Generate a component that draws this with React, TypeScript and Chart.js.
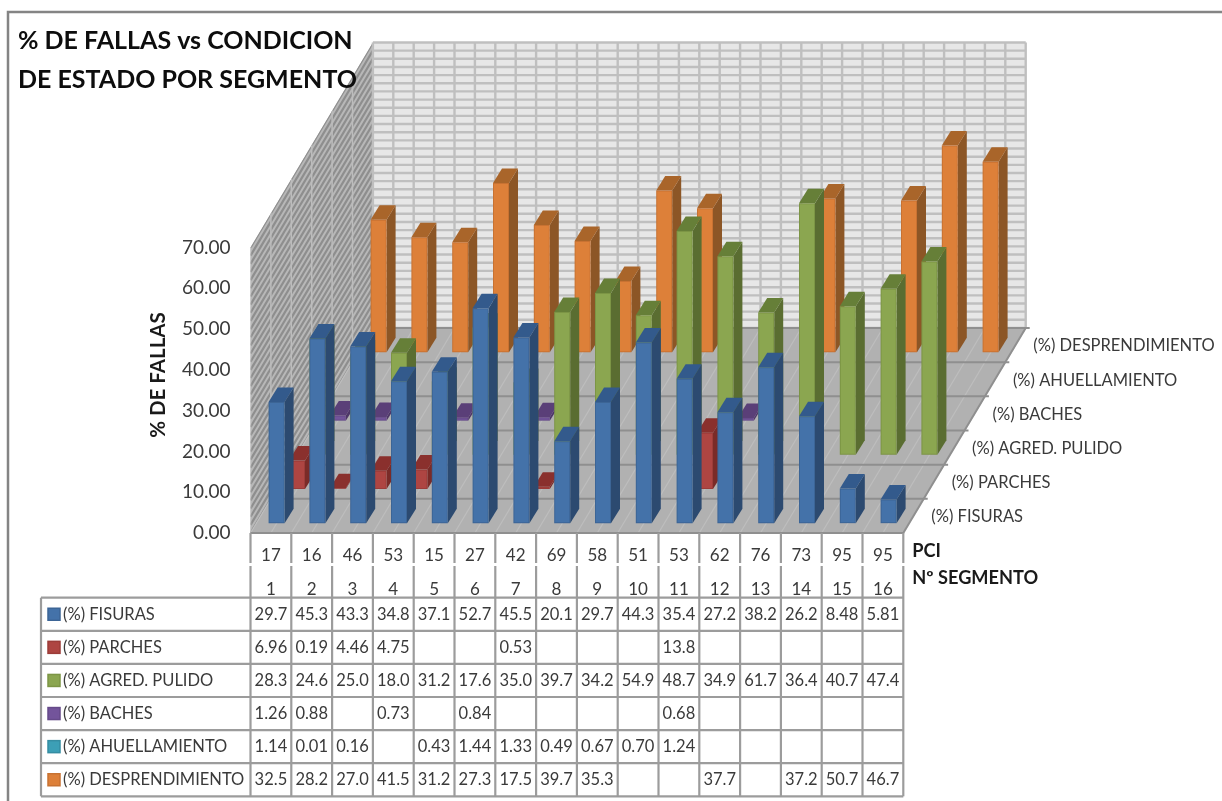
import React, { useEffect, useRef } from "react";
import { Chart, registerables } from "chart.js";

Chart.register(...registerables);

const FONT = "Lato";
const TEXT = "#3a3a3a";

const segments = ["1","2","3","4","5","6","7","8","9","10","11","12","13","14","15","16"];
const pci = ["17","16","46","53","15","27","42","69","58","51","53","62","76","73","95","95"];

const fisuras = [29.7,45.3,43.3,34.8,37.1,52.7,45.5,20.1,29.7,44.3,35.4,27.2,38.2,26.2,8.48,5.81];
const parches = [6.96,0.19,4.46,4.75,null,null,0.53,null,null,null,13.8,null,null,null,null,null];
const agredPulido = [28.3,24.6,25.0,18.0,31.2,17.6,35.0,39.7,34.2,54.9,48.7,34.9,61.7,36.4,40.7,47.4];
const baches = [1.26,0.88,null,0.73,null,0.84,null,null,null,null,0.68,null,null,null,null,null];
const ahuellamiento = [1.14,0.01,0.16,null,0.43,1.44,1.33,0.49,0.67,0.70,1.24,null,null,null,null,null];
const desprendimiento = [32.5,28.2,27.0,41.5,31.2,27.3,17.5,39.7,35.3,null,null,37.7,null,37.2,50.7,46.7];

const seriesNames = ["(%) FISURAS","(%) PARCHES","(%) AGRED. PULIDO","(%) BACHES","(%) AHUELLAMIENTO","(%) DESPRENDIMIENTO"];
const seriesValues = [fisuras, parches, agredPulido, baches, ahuellamiento, desprendimiento];

// front, top and side shades of each series
const shades = [
  { front: "#4472a9", edge: "#3c6596", top: "#335a8c", side: "#2c4a70" },
  { front: "#ae4542", edge: "#9c3c39", top: "#8a302d", side: "#7a2b28" },
  { front: "#8ba650", edge: "#7c9545", top: "#667f38", side: "#5a6d31" },
  { front: "#73549b", edge: "#664a8a", top: "#5a3f78", side: "#4e3668" },
  { front: "#3c9fb6", edge: "#358da2", top: "#2f7e90", side: "#286b7a" },
  { front: "#dd8039", edge: "#c87232", top: "#a9652a", side: "#8c5626" },
];

// oblique projection of the depth axis
const ROW_DX = 20.4;
const ROW_DY = 34.17;
const ROWS = 6;
const BAR_DX = 9;
const BAR_DY = 14.5;
const TABLE_TOP = 597.7;
const TABLE_ROW = 33.1;
const TABLE_LEFT = 41;

const quad = (ctx: any, pts: number[][], fill: string) => {
  ctx.fillStyle = fill;
  ctx.beginPath();
  ctx.moveTo(pts[0][0], pts[0][1]);
  pts.slice(1).forEach((p) => ctx.lineTo(p[0], p[1]));
  ctx.closePath();
  ctx.fill();
};

const line = (ctx: any, x1: number, y1: number, x2: number, y2: number) => {
  ctx.beginPath();
  ctx.moveTo(x1, y1);
  ctx.lineTo(x2, y2);
  ctx.stroke();
};

const cell = (v: number) => (v >= 10 ? v.toFixed(1) : v.toFixed(2));

// the title sits above the walls and bars
const titleOnTop = {
  id: "titleOnTop",
  beforeLayout(chart: any) {
    const block = chart.titleBlock;
    if (block) block._layers = () => [{ z: 1, draw: () => block.draw() }];
  },
};

const walls = {
  id: "walls",
  beforeDatasetsDraw(chart: any) {
    const { ctx, scales } = chart;
    const { x, y } = scales;
    const depthX = ROW_DX * ROWS;
    const depthY = ROW_DY * ROWS;
    const y0 = y.getPixelForValue(0);
    const yMax = y.getPixelForValue(70);
    const step = x.width / segments.length / 2;
    ctx.save();

    // side wall
    quad(ctx, [[x.left, y0], [x.left, yMax], [x.left + depthX, yMax - depthY], [x.left + depthX, y0 - depthY]], "#b8b8b8");
    ctx.save();
    ctx.beginPath();
    ctx.moveTo(x.left, y0);
    ctx.lineTo(x.left, yMax);
    ctx.lineTo(x.left + depthX, yMax - depthY);
    ctx.lineTo(x.left + depthX, y0 - depthY);
    ctx.closePath();
    ctx.clip();
    ctx.strokeStyle = "#8e8e8e";
    ctx.lineWidth = 2.2;
    for (let v = 0; v <= 70; v += 2) {
      const py = y.getPixelForValue(v);
      line(ctx, x.left, py, x.left + depthX, py - depthY);
    }
    ctx.strokeStyle = "#bcbcbc";
    ctx.lineWidth = 1.5;
    for (let r = 0; r <= ROWS; r++) {
      const dx = r * ROW_DX;
      line(ctx, x.left + dx, 0, x.left + dx, chart.height);
    }
    ctx.restore();

    // back wall
    const bl = x.left + depthX;
    const br = x.right + depthX;
    const bb = y0 - depthY;
    const bt = yMax - depthY;
    quad(ctx, [[bl, bb], [bl, bt], [br, bt], [br, bb]], "#e7e7e7");
    ctx.strokeStyle = "#bfbfbf";
    ctx.lineWidth = 2.4;
    for (let v = 0; v <= 70; v += 2) {
      const py = y.getPixelForValue(v) - depthY;
      line(ctx, bl, py, br, py);
    }
    for (let i = 0; i <= segments.length * 2; i++) {
      const px = bl + i * step;
      line(ctx, px, bb, px, bt);
    }

    // floor
    quad(ctx, [[x.left, y0], [x.right, y0], [br, bb], [bl, bb]], "#b1b1b1");
    ctx.strokeStyle = "#bebebe";
    ctx.lineWidth = 1.2;
    for (let i = 0; i <= segments.length * 2; i++) {
      const px = x.left + i * step;
      line(ctx, px, y0, px + depthX, bb);
    }
    ctx.strokeStyle = "#8f8f8f";
    ctx.lineWidth = 2;
    for (let r = 0; r <= ROWS; r++) {
      const dx = r * ROW_DX;
      const dy = r * ROW_DY;
      line(ctx, x.left + dx, y0 - dy, x.right + dx + (r > 0 ? 4 : 0), y0 - dy);
    }
    line(ctx, x.right, y0, br, bb);
    ctx.restore();
  },
};

const bars3d = {
  id: "bars3d",
  beforeDatasetDraw(chart: any, args: any) {
    const { ctx } = chart;
    const row = args.index;
    const c = shades[row];
    const values = chart.data.datasets[row].data;
    const shiftX = (row + 0.5) * ROW_DX - BAR_DX / 2;
    const shiftY = (row + 0.5) * ROW_DY - BAR_DY / 2;
    ctx.save();
    args.meta.data.forEach((bar: any, i: number) => {
      if (values[i] === null) return;
      const { x, y, base, width } = bar.getProps(["x", "y", "base", "width"]);
      const l = x - width / 2 + shiftX;
      const r = l + width;
      const t = y - shiftY;
      const b = base - shiftY;
      quad(ctx, [[r, b], [r, t], [r + BAR_DX, t - BAR_DY], [r + BAR_DX, b - BAR_DY]], c.side);
      quad(ctx, [[l, t], [l + BAR_DX, t - BAR_DY], [r + BAR_DX, t - BAR_DY], [r, t]], c.top);
      quad(ctx, [[l, b], [l, t], [r, t], [r, b]], c.edge);
      if (b - t > 2) quad(ctx, [[l + 1, b - 1], [l + 1, t + 1], [r - 1, t + 1], [r - 1, b - 1]], c.front);
    });
    ctx.restore();
    return false;
  },
};

const annotations = {
  id: "annotations",
  afterDraw(chart: any) {
    const { ctx, scales, width } = chart;
    const { x, y } = scales;
    const y0 = y.getPixelForValue(0);
    const cw = x.width / segments.length;
    ctx.save();

    // chart frame
    ctx.strokeStyle = "#848484";
    ctx.lineWidth = 2.5;
    ctx.beginPath();
    ctx.moveTo(8, 801);
    ctx.lineTo(8, 12);
    ctx.lineTo(width, 12);
    ctx.stroke();

    // value axis title
    ctx.save();
    ctx.translate(158, 375);
    ctx.rotate(-Math.PI / 2);
    ctx.fillStyle = "#1a1a1a";
    ctx.font = `bold 20.5px ${FONT}`;
    ctx.textAlign = "center";
    ctx.textBaseline = "middle";
    ctx.fillText("% DE FALLAS", 0, 0);
    ctx.restore();

    // series names along the floor edge
    ctx.fillStyle = TEXT;
    ctx.font = `16.5px ${FONT}`;
    ctx.textAlign = "left";
    ctx.textBaseline = "middle";
    seriesNames.forEach((name, r) => {
      ctx.fillText(name, x.right + 28 + r * ROW_DX, y0 - 16 - r * ROW_DY);
    });

    // row captions of the category axis
    ctx.fillStyle = "#1a1a1a";
    ctx.font = `bold 18.2px ${FONT}`;
    ctx.fillText("PCI", x.right + 9, 551);
    ctx.fillText("Nº SEGMENTO", x.right + 9, 578);

    // data table
    const rows = seriesNames.length;
    const tableBottom = TABLE_TOP + rows * TABLE_ROW;
    ctx.strokeStyle = "#9c9c9c";
    ctx.lineWidth = 2.2;
    for (let r = 0; r <= rows; r++) {
      const py = TABLE_TOP + r * TABLE_ROW;
      line(ctx, TABLE_LEFT, py, x.right, py);
    }
    line(ctx, TABLE_LEFT, TABLE_TOP, TABLE_LEFT, tableBottom);
    for (let i = 0; i <= segments.length; i++) {
      const px = x.left + i * cw;
      line(ctx, px, y0, px, 563);
      line(ctx, px, 566, px, tableBottom);
    }

    seriesNames.forEach((name, r) => {
      const cy = TABLE_TOP + (r + 0.5) * TABLE_ROW;
      const c = shades[r];
      ctx.fillStyle = c.front;
      ctx.strokeStyle = c.edge;
      ctx.lineWidth = 1.5;
      ctx.fillRect(48, cy - 6, 12, 12);
      ctx.strokeRect(48, cy - 6, 12, 12);
      ctx.fillStyle = TEXT;
      ctx.font = `16.5px ${FONT}`;
      ctx.textAlign = "left";
      ctx.textBaseline = "middle";
      ctx.fillText(name, 63, cy);
      ctx.textAlign = "center";
      seriesValues[r].forEach((v, i) => {
        if (v !== null) ctx.fillText(cell(v), x.getPixelForTick(i), cy);
      });
    });
    ctx.restore();
  },
};

export default function App() {
  const ref = useRef<HTMLCanvasElement | null>(null);

  useEffect(() => {
    const chart = new Chart(ref.current as HTMLCanvasElement, {
      type: "bar",
      data: {
        labels: segments.map((s, i) => [pci[i], s]),
        datasets: seriesNames.map((label, i) => ({
          label,
          data: seriesValues[i],
          backgroundColor: shades[i].front,
          // the rutting series is listed in the table but has no visible bars
          hidden: i === 4,
        })),
      } as any,
      options: {
        animation: false,
        responsive: false,
        layout: { autoPadding: false, padding: { left: 18, right: 318.7, top: 0, bottom: 0 } },
        datasets: { bar: { grouped: false, barThickness: 16 } },
        plugins: {
          legend: { display: false },
          tooltip: { enabled: false },
          title: {
            display: true,
            text: ["% DE FALLAS vs CONDICION", "DE ESTADO POR SEGMENTO"],
            align: "start",
            color: "#0d0d0d",
            font: { family: FONT, size: 25, weight: "bold", lineHeight: 1.56 },
            padding: { top: 21.5, bottom: 148 },
          },
        },
        scales: {
          x: {
            type: "category",
            grid: { display: false },
            border: { display: false },
            ticks: {
              autoSkip: false,
              maxRotation: 0,
              minRotation: 0,
              padding: -2,
              color: TEXT,
              font: { family: FONT, size: 17, lineHeight: 2 },
            },
            afterFit(scale: any) {
              scale.height = 268;
            },
          },
          y: {
            type: "linear",
            min: 0,
            max: 70,
            grid: { display: false },
            border: { display: false },
            ticks: {
              stepSize: 10,
              padding: 12,
              color: TEXT,
              font: { family: FONT, size: 19 },
              callback: (v: any) => Number(v).toFixed(2),
            },
            afterFit(scale: any) {
              scale.width = 232.5;
            },
          },
        },
      } as any,
      plugins: [titleOnTop, walls, bars3d, annotations],
    });
    return () => chart.destroy();
  }, []);

  return (
    <div style={{ position: "absolute", left: 0, top: 0, width: 1222, height: 801, overflow: "hidden", background: "#fff" }}>
      <canvas ref={ref} width={1222} height={801} style={{ display: "block" }} />
    </div>
  );
}
